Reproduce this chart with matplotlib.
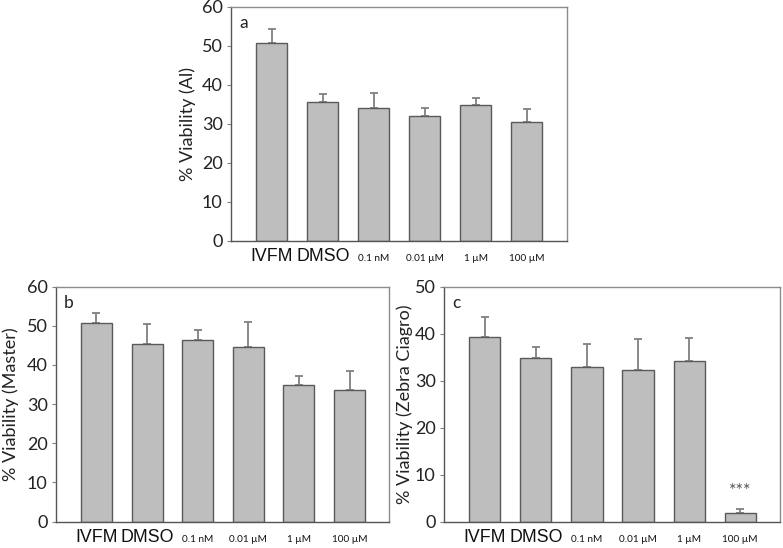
import matplotlib
matplotlib.use("Agg")
import matplotlib.pyplot as plt
import numpy as np

# dados
grupos = ["IVFM", "DMSO", "0.1 nM", "0.01 µM", "1 µM", "100 µM"]

media_a = [50.7, 35.6, 34.0, 32.0, 34.7, 30.4]
erro_a = [3.6, 2.0, 3.9, 2.1, 1.9, 3.3]

media_b = [50.6, 45.3, 46.5, 44.6, 34.8, 33.6]
erro_b = [2.8, 5.2, 2.5, 6.3, 2.3, 4.8]

media_c = [39.2, 34.8, 33.0, 32.3, 34.1, 1.9]
erro_c = [4.4, 2.4, 4.7, 6.5, 4.9, 0.8]

FONTE = "Lato"
W, H = 783, 548


def caixa(esq, topo, dir_, base):
    # pixels -> fração da figura
    return [esq / W, 1 - base / H, (dir_ - esq) / W, (base - topo) / H]


def painel(fig, pos, medias, erros, ymax, ylabel, letra, xlab):
    ax = fig.add_axes(pos)
    x = np.arange(len(medias))
    ax.bar(x, medias, width=0.61, color="#BEBEBE", edgecolor="#5A5A5A",
           linewidth=1.0, zorder=2)
    ax.errorbar(x, medias, yerr=[np.zeros(len(erros)), erros], fmt="none",
                ecolor="#808080", elinewidth=1.3, capsize=2.6, capthick=1.3,
                zorder=1)
    ax.set_xlim(-0.8, 5.78)
    ax.set_ylim(0, ymax)
    ax.set_yticks(np.arange(0, ymax + 1, 10))
    ax.tick_params(axis="y", length=3, width=0.8, color="#808080", pad=3,
                   labelsize=13, labelcolor="#222222")
    for t in ax.get_yticklabels():
        t.set_family(FONTE)

    ax.set_xticks(x)
    ax.set_xticklabels(grupos)
    ax.tick_params(axis="x", length=0, pad=15)
    for i, t in enumerate(ax.get_xticklabels()):
        t.set_va("baseline")
        t.set_color("#111111")
        if i < 2:
            t.set_family("Liberation Sans")
            t.set_fontsize(12.8)
        else:
            t.set_family(FONTE)
            t.set_fontsize(7.2)

    for lado in ["left", "bottom"]:
        ax.spines[lado].set_color("#555555")
        ax.spines[lado].set_linewidth(1.0)
    for lado in ["top", "right"]:
        ax.spines[lado].set_color("#8C8C8C")
        ax.spines[lado].set_linewidth(1.0)

    ax.set_ylabel(ylabel, family=FONTE, fontsize=13, color="#222222", va="center")
    ax.yaxis.set_label_coords(xlab, 0.5)
    ax.text(0.037, 0.965, letra, transform=ax.transAxes, ha="center", va="top",
            family=FONTE, fontsize=12.5, color="#222222")
    return ax


fig = plt.figure(figsize=(W / 100, H / 100), dpi=100)

painel(fig, caixa(231, 6.7, 566.5, 240.5), media_a, erro_a, 60,
       "% Viability (Al)", "a", -0.128)
painel(fig, caixa(56, 286.7, 389, 521.5), media_b, erro_b, 60,
       "% Viability (Master)", "b", -0.135)
ax_c = painel(fig, caixa(444, 286.7, 780, 521.5), media_c, erro_c, 50,
              "% Viability (Zebra Ciagro)", "c", -0.116)

# significância no último grupo
ax_c.text(5, media_c[5] + erro_c[5] + 3.9, "***", ha="center", va="center",
          family=FONTE, fontsize=13, color="#555555")

plt.savefig("out.png", dpi=100)
plt.close()
